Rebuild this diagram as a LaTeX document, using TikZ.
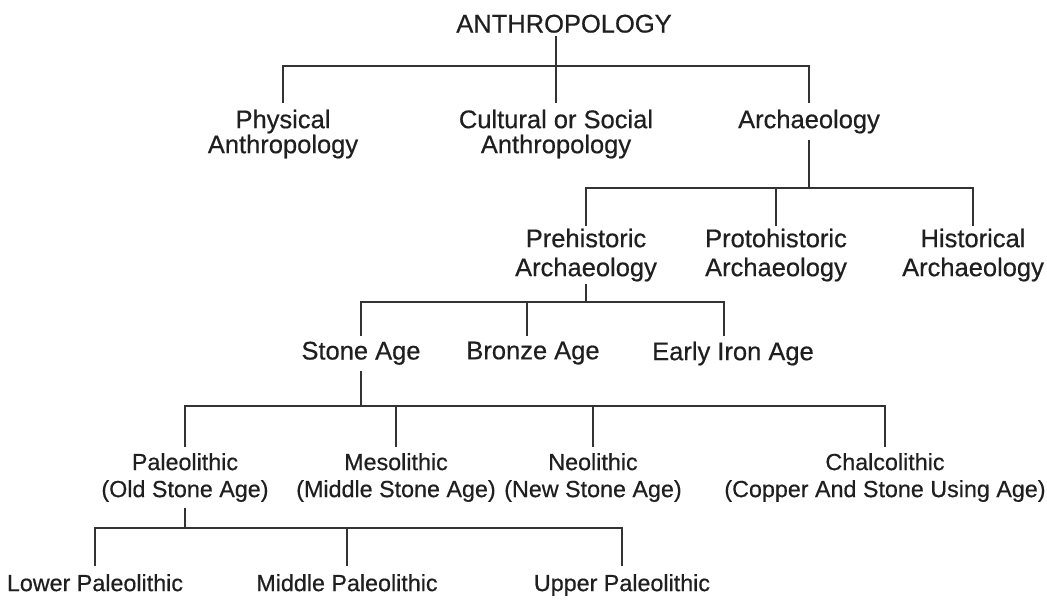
\documentclass[tikz,border=0pt]{standalone}
\usepackage{fontspec}
\setmainfont{Liberation Sans}[BoldFont=Liberation Sans, BoldFeatures={FakeBold=0.5}]
\usepackage{tikz}
\usetikzlibrary{calc}
\definecolor{inkgray}{rgb}{0.2,0.2,0.2}

\begin{document}
\begin{tikzpicture}[x=1pt, y=-1pt,
    big/.style={font=\fontsize{25.5}{25}\selectfont\bfseries, text=black!88, align=center, anchor=north, inner xsep=0pt},
    lvlone/.style={big, inner ysep=4pt},
    lvltwo/.style={big, inner ysep=7pt},
    lvlthree/.style={big, font=\fontsize{25.5}{29}\selectfont\bfseries, inner ysep=3.5pt},
    lvlfour/.style={big, inner ysep=6.5pt},
    lvlfive/.style={big, font=\fontsize{23.3}{27}\selectfont\bfseries, inner ysep=7pt},
    lvlsix/.style={big, font=\fontsize{23.3}{27}\selectfont\bfseries, inner ysep=9pt},
    link/.style={draw=inkgray, line width=1.7pt, line cap=rect},
    heavy/.style={draw=inkgray, line width=2.8pt, line cap=rect}]
        % Page background
        \fill[white] (0,0) rectangle (1047,594);

        % Root and the three main branches
        \node[lvlone] (anth) at (564,10.5) {ANTHROPOLOGY};
        \node[lvltwo] (phys) at (283,102.5) {Physical\\Anthropology};
        \node[lvltwo] (cult) at (556,102.5) {Cultural or Social\\Anthropology};
        \node[lvltwo] (arch) at (809,102.5) {Archaeology};

        % Kinds of archaeology
        \node[lvlthree] (pre) at (586,225) {Prehistoric\\Archaeology};
        \node[lvlthree] (proto) at (776,225) {Protohistoric\\Archaeology};
        \node[lvlthree] (hist) at (973,225) {Historical\\Archaeology};

        % Ages
        \node[lvlfour] (stone) at (361,335) {Stone Age};
        \node[lvlfour] (bronze) at (533,335) {Bronze Age};
        \node[lvlfour] (iron) at (733,335) {Early Iron Age};

        % Stone age periods
        \node[lvlfive] (paleo) at (185,446) {Paleolithic\\(Old Stone Age)};
        \node[lvlfive] (meso) at (396,446) {Mesolithic\\(Middle Stone Age)};
        \node[lvlfive] (neo) at (593,446) {Neolithic\\(New Stone Age)};
        \node[lvlfive] (chalco) at (885,446) {Chalcolithic\\(Copper And Stone Using Age)};

        % Paleolithic phases
        \node[lvlsix] (lower) at (95,565) {Lower Paleolithic};
        \node[lvlsix] (middle) at (347,565) {Middle Paleolithic};
        \node[lvlsix] (upper) at (622,565) {Upper Paleolithic};

        % Heights of the horizontal bars
        \coordinate (barA) at (0,66);
        \coordinate (barB) at (0,188);
        \coordinate (barC) at (0,302);
        \coordinate (barD) at (0,406);
        \coordinate (barE) at (0,528);
        % Where the age lines meet their labels
        \coordinate (bronzeup) at ([xshift=-6pt]bronze.north);
        \coordinate (ironup) at ([xshift=-9pt]iron.north);

        % Root to branches
        \draw[link] (anth.south -| cult.north) -- (cult.north);
        \draw[link] (phys.north) |- (barA -| arch.north) -- (arch.north);

        % Archaeology to its kinds
        \draw[link] (arch.south) -- (arch.south |- barB);
        \draw[heavy] (pre.north) |- (barB -| hist.north);
        \foreach \kid in {proto,hist} {
            \draw[link] (\kid.north) -- (\kid.north |- barB);
          }

        % Prehistoric to ages
        \draw[link] (pre.south) -- (pre.south |- barC);
        \draw[heavy] (stone.north |- barC) -- (barC -| ironup) -- (ironup);
        \foreach \kid in {stone.north,bronzeup} {
            \draw[link] (\kid) -- (\kid |- barC);
          }

        % Stone age to periods
        \draw[link] (stone.south) -- (stone.south |- barD);
        \draw[heavy] (paleo.north |- barD) -- (chalco.north |- barD);
        \foreach \kid in {paleo,meso,neo,chalco} {
            \draw[link] (\kid.north) -- (\kid.north |- barD);
          }

        % Paleolithic to phases
        \draw[link] (paleo.south) -- (paleo.south |- barE);
        \draw[link] (lower.north |- barE) -- (upper.north |- barE);
        \foreach \kid in {lower,middle,upper} {
            \draw[link] (\kid.north) -- (\kid.north |- barE);
          }
\end{tikzpicture}
\end{document}
